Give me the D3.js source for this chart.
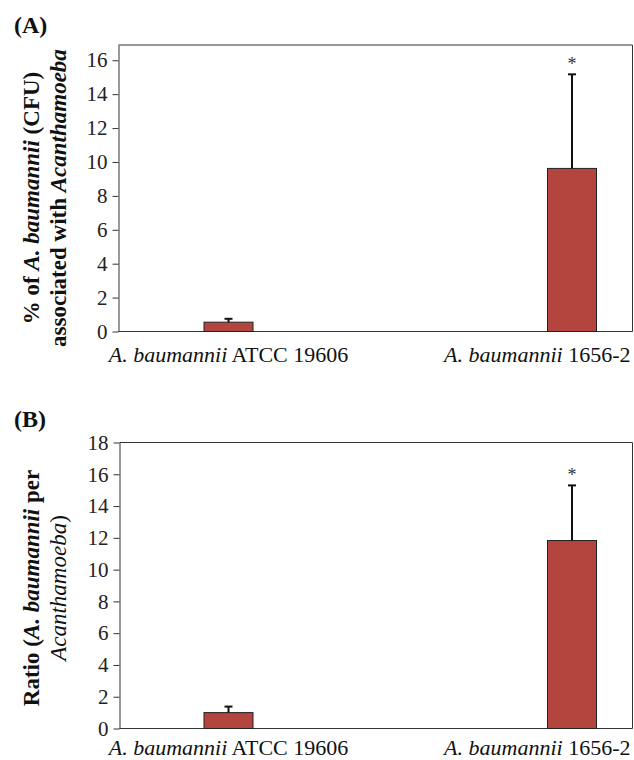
<!DOCTYPE html>
<html>
<head>
<meta charset="utf-8">
<script src="https://cdn.jsdelivr.net/npm/d3@7"></script>
<style>
  body { margin: 0; background: #fff; }
  text { font-family: "Liberation Serif", "Times New Roman", serif; }
</style>
</head>
<body>
<div id="chart"></div>
<script>
// strains on the x axis
const categories = ['ATCC 19606', '1656-2']

// panel A: % of A. baumannii (CFU) associated with Acanthamoeba
const pctValues = [0.55, 9.62]
const pctErrors = [0.2, 5.55]
const pctTicks = [0, 2, 4, 6, 8, 10, 12, 14, 16]
const pctStars = ['', '*']

// panel B: ratio A. baumannii per Acanthamoeba
const ratioValues = [1.0, 11.83]
const ratioErrors = [0.38, 3.47]
const ratioTicks = [0, 2, 4, 6, 8, 10, 12, 14, 16, 18]
const ratioStars = ['', '*']

const width = 634
const height = 760
const barColor = '#b3443e'

const svg = d3.select('#chart')
  .append('svg')
  .attr('width', width)
  .attr('height', height)

function panel(cfg) {
  const { letter, letterY, top, bottom, left, right, yMax, values, errors, ticks, stars, title, titleY, labelY } = cfg

  const g = svg.append('g')

  const y = d3.scaleLinear().domain([0, yMax]).range([bottom, top])
  const x = d3.scalePoint().domain(categories).range([228.5, 572])
  const barW = 49

  // panel letter
  g.append('text')
    .attr('x', 14)
    .attr('y', letterY)
    .style('font-size', '24px')
    .style('font-weight', 'bold')
    .attr('fill', '#111')
    .text(letter)

  // frame (top + right)
  g.append('path')
    .attr('d', `M${left},${top}H${right}V${bottom}`)
    .attr('fill', 'none')
    .attr('stroke', '#333')
    .attr('stroke-width', 1)

  // y axis
  const yAxis = g.append('g')
    .attr('transform', `translate(${left},0)`)
    .call(d3.axisLeft(y).tickValues(ticks).tickSize(6).tickPadding(5).tickSizeOuter(0))
  yAxis.select('.domain').attr('stroke', '#333')
  yAxis.selectAll('.tick line').attr('stroke', '#333')
  yAxis.selectAll('.tick text')
    .style('font-size', '21px')
    .style('font-family', '"Liberation Serif", serif')
    .attr('fill', '#222')

  // x baseline
  g.append('line')
    .attr('x1', left).attr('x2', right)
    .attr('y1', bottom).attr('y2', bottom)
    .attr('stroke', '#333')

  // bars
  g.selectAll('rect.bar')
    .data(categories)
    .join('rect')
    .attr('class', 'bar')
    .attr('x', d => x(d) - barW / 2)
    .attr('width', barW)
    .attr('y', (d, i) => y(values[i]))
    .attr('height', (d, i) => y(0) - y(values[i]))
    .attr('fill', barColor)
    .attr('stroke', '#222')
    .attr('stroke-width', 1)

  // upper error bars
  const err = g.selectAll('g.err')
    .data(categories)
    .join('g')
    .attr('class', 'err')
  err.append('line')
    .attr('x1', d => x(d)).attr('x2', d => x(d))
    .attr('y1', (d, i) => y(values[i]))
    .attr('y2', (d, i) => y(values[i] + errors[i]))
    .attr('stroke', '#111')
    .attr('stroke-width', 2)
  err.append('line')
    .attr('x1', d => x(d) - 4).attr('x2', d => x(d) + 4)
    .attr('y1', (d, i) => y(values[i] + errors[i]))
    .attr('y2', (d, i) => y(values[i] + errors[i]))
    .attr('stroke', '#111')
    .attr('stroke-width', 2)

  // significance marks
  g.selectAll('text.star')
    .data(categories)
    .join('text')
    .attr('class', 'star')
    .attr('x', d => x(d))
    .attr('y', (d, i) => y(values[i] + errors[i]) - 4)
    .attr('text-anchor', 'middle')
    .style('font-size', '18px')
    .attr('fill', '#333')
    .text((d, i) => stars[i])

  // category labels
  const labels = g.selectAll('text.cat')
    .data(categories)
    .join('text')
    .attr('class', 'cat')
    .attr('x', (d, i) => i === 0 ? x(d) : right - 2)
    .attr('y', labelY)
    .attr('text-anchor', (d, i) => i === 0 ? 'middle' : 'end')
    .style('font-size', '22px')
    .attr('fill', '#111')
  labels.append('tspan').style('font-style', 'italic').text('A. baumannii')
  labels.append('tspan').text(d => ' ' + d)

  // y title (two lines)
  title.forEach((line, li) => {
    const t = g.append('text')
      .attr('transform', `translate(${39 + li * 27},${titleY}) rotate(-90)`)
      .attr('text-anchor', 'middle')
      .style('font-size', '23px')
      .attr('fill', '#111')
    line.forEach(part => {
      t.append('tspan')
        .style('font-style', part.i ? 'italic' : 'normal')
        .style('font-weight', part.b === false ? 'normal' : 'bold')
        .text(part.t)
    })
  })
}

panel({
  letter: '(A)', letterY: 33,
  top: 45, bottom: 331.5, left: 118.5, right: 632.5,
  yMax: 16.9, titleY: 198, labelY: 362,
  values: pctValues, errors: pctErrors, ticks: pctTicks, stars: pctStars,
  title: [
    [{ t: '% of ' }, { t: 'A. baumannii', i: true }, { t: ' (CFU)' }],
    [{ t: 'associated with ' }, { t: 'Acanthamoeba', i: true }]
  ]
})

panel({
  letter: '(B)', letterY: 427,
  top: 442.5, bottom: 728.5, left: 119.5, right: 632.5,
  yMax: 18, titleY: 588, labelY: 755,
  values: ratioValues, errors: ratioErrors, ticks: ratioTicks, stars: ratioStars,
  title: [
    [{ t: 'Ratio (' }, { t: 'A. baumannii', i: true }, { t: ' per' }],
    [{ t: 'Acanthamoeba', i: true, b: false }, { t: ')', b: false }]
  ]
})
</script>
</body>
</html>
